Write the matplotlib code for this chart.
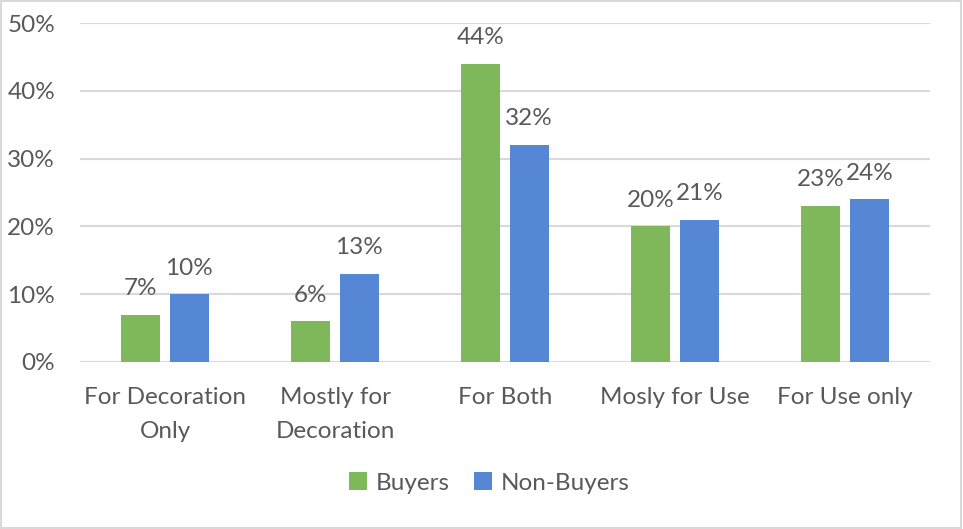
import numpy as np
import matplotlib
matplotlib.use("Agg")
import matplotlib.pyplot as plt
from matplotlib.patches import Rectangle

categories = ["For Decoration\nOnly", "Mostly for\nDecoration", "For Both",
              "Mosly for Use", "For Use only"]
buyers = [7, 6, 44, 20, 23]
non_buyers = [10, 13, 32, 21, 24]
yticks = [0, 10, 20, 30, 40, 50]

green = "#7FB85B"
blue = "#5587D4"
text_col = "#595959"
grid_col = "#D9D9D9"
fs = 17.5

plt.rcParams["font.family"] = ["Lato", "DejaVu Sans"]

fig = plt.figure(figsize=(9.63, 5.29), dpi=100)
ax = fig.add_axes([80 / 963, 1 - 362 / 529, 850 / 963, 339 / 529])

x = np.arange(len(categories))
w = 0.23
off = 0.143
b1 = ax.bar(x - off, buyers, w, color=green, label="Buyers", zorder=3)
b2 = ax.bar(x + off, non_buyers, w, color=blue, label="Non-Buyers", zorder=3)

for bars, vals in ((b1, buyers), (b2, non_buyers)):
    for r, v in zip(bars, vals):
        ax.text(r.get_x() + r.get_width() / 2, v + 2.3, f"{v}%", ha="center",
                va="bottom", fontsize=fs, color=text_col)

ax.set_xlim(-0.5, len(categories) - 0.5)
ax.set_ylim(0, 50)
ax.set_yticks(yticks)
ax.set_yticklabels([f"{t}%" for t in yticks])
ax.set_xticks(x)
ax.set_xticklabels(categories, linespacing=1.75)
ax.tick_params(axis="both", length=0, labelsize=fs, labelcolor=text_col)
ax.tick_params(axis="y", pad=18)
ax.tick_params(axis="x", pad=18)
ax.yaxis.grid(True, color=grid_col, linewidth=1.5, zorder=0)
for s in ax.spines.values():
    s.set_visible(False)

leg = fig.legend(handles=[b1, b2], loc="center", bbox_to_anchor=(489 / 963, 1 - 483 / 529),
                 ncol=2, frameon=False, fontsize=fs, handlelength=0.75, handleheight=0.75,
                 handletextpad=0.35, columnspacing=1.0)
for t in leg.get_texts():
    t.set_color(text_col)

fig.patches.append(Rectangle((0.001, 0.001), 0.997, 0.997, transform=fig.transFigure,
                             fill=False, edgecolor=grid_col, linewidth=1.5))

fig.savefig("out.png", dpi=100)
